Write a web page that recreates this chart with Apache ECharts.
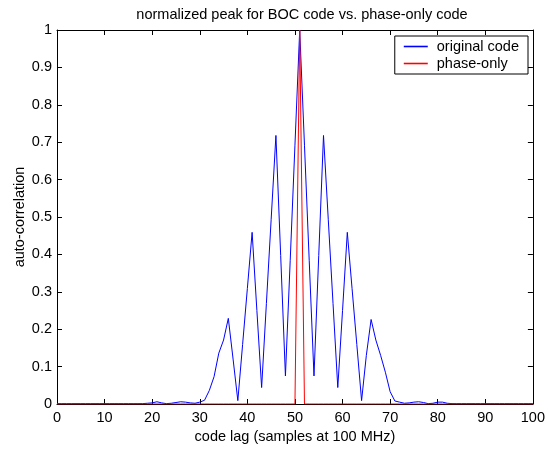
<!DOCTYPE html>
<html>
<head>
<meta charset="utf-8">
<script src="https://cdn.jsdelivr.net/npm/echarts@6/dist/echarts.min.js"></script>
<style>
html,body{margin:0;padding:0;background:#fff;}
#chart{width:548px;height:450px;}
</style>
</head>
<body>
<div id="chart"></div>
<script>
// code lag (samples)
var lags = [0,1,2,3,4,5,6,7,8,9,10,11,12,13,14,15,16,17,18,19,
  20,21,22,23,24,25,26,27,28,29,30,31,32,33,34,35,36,37,38,39,
  40,41,42,43,44,45,46,47,48,49,50,51,52,53,54,55,56,57,58,59,
  60,61,62,63,64,65,66,67,68,69,70,71,72,73,74,75,76,77,78,79,
  80,81,82,83,84,85,86,87,88,89,90,91,92,93,94,95,96,97,98,99,100];
// original code auto-correlation
var originalCode = [0.001,0.001,0.001,0.001,0.001,0.001,0.001,0.001,0.001,0.001,
  0.001,0.001,0.001,0.001,0.001,0.001,0.001,0.001,0.001,0.002,
  0.003,0.006,0.003,0.001,0.002,0.004,0.006,0.005,0.003,0.002,
  0.005,0.01,0.036,0.073,0.136,0.171,0.229,0.12,0.009,0.159,
  0.309,0.459,0.25,0.044,0.269,0.494,0.718,0.397,0.075,0.383,
  0.692,1.0,0.692,0.383,0.075,0.397,0.718,0.494,0.269,0.044,
  0.25,0.459,0.309,0.159,0.009,0.13,0.226,0.171,0.13,0.085,
  0.033,0.008,0.005,0.002,0.003,0.005,0.006,0.004,0.001,0.002,
  0.005,0.005,0.002,0.001,0.001,0.001,0.001,0.001,0.001,0.001,
  0.001,0.001,0.001,0.001,0.001,0.001,0.001,0.001,0.001,0.001,0.001];
// phase-only code auto-correlation
var phaseOnly = [0,0,0,0,0,0,0,0,0,0,0,0,0,0,0,0,0,0,0,0,
  0,0,0,0,0,0,0,0,0,0,0,0,0,0,0,0,0,0,0,0,
  0,0,0,0,0,0,0,0,0,0,0,1,0,0,0,0,0,0,0,0,
  0,0,0,0,0,0,0,0,0,0,0,0,0,0,0,0,0,0,0,0,
  0,0,0,0,0,0,0,0,0,0,0,0,0,0,0,0,0,0,0,0,0];
var seriesNames = ['original code', 'phase-only'];
var xTicks = [0,10,20,30,40,50,60,70,80,90,100];
var yTicks = [0,0.1,0.2,0.3,0.4,0.5,0.6,0.7,0.8,0.9,1];

function pairs(xs, ys){ return xs.map(function(x,i){ return [x, ys[i]]; }); }

var font = 'Liberation Sans, Arial, Helvetica, sans-serif';
var fs = 14.5;
var chart = echarts.init(document.getElementById('chart'), null, {renderer:'canvas'});
var axisCommon = {
  axisLine:{show:true, onZero:false, lineStyle:{color:'#000', width:1}},
  axisTick:{show:true, inside:true, length:5, lineStyle:{color:'#000', width:1}},
  splitLine:{show:false}
};
var seriesColors = ['#0000ff', '#ff0000'];
chart.setOption({
  animation:false,
  backgroundColor:'#fff',
  color:seriesColors,
  title:{
    text:'normalized peak for BOC code vs. phase-only code',
    left:297, top:2, textAlign:'center',
    textStyle:{fontFamily:font, fontSize:fs, fontWeight:'normal', color:'#000'}
  },
  legend:{
    data:seriesNames.map(function(n, i){
      return {name:n, icon:'rect',
        itemStyle:{color:seriesColors[i], borderWidth:0, opacity:1}};
    }),
    orient:'vertical',
    right:20, top:36,
    itemWidth:24, itemHeight:1.6, itemGap:2,
    padding:[3,9,3,9],
    backgroundColor:'#fff',
    borderColor:'#000', borderWidth:1, borderRadius:0,
    textStyle:{fontFamily:font, fontSize:fs, lineHeight:15, color:'#000', padding:[0,0,0,4]}
  },
  grid:{left:57, top:30, width:481, height:374, containLabel:false},
  xAxis:[
    Object.assign({
      type:'value', position:'bottom', min:0, max:100, interval:10,
      name:'code lag (samples at 100 MHz)', nameLocation:'middle', nameGap:25,
      nameMoveOverlap:false,
      nameTextStyle:{fontFamily:font, fontSize:fs, color:'#000'},
      axisLabel:{fontFamily:font, fontSize:fs, color:'#000', margin:6,
        formatter:function(v){ return xTicks.indexOf(v)>=0 ? String(v) : ''; }}
    }, axisCommon),
    Object.assign({
      type:'value', position:'top', min:0, max:100, interval:10,
      axisLabel:{show:false}
    }, axisCommon)
  ],
  yAxis:[
    Object.assign({
      type:'value', position:'left', min:0, max:1, interval:0.1,
      name:'auto-correlation', nameLocation:'middle', nameGap:30,
      nameMoveOverlap:false,
      nameTextStyle:{fontFamily:font, fontSize:fs, color:'#000'},
      axisLabel:{fontFamily:font, fontSize:fs, color:'#000', margin:5,
        formatter:function(v){ var r=Math.round(v*10)/10; return yTicks.indexOf(r)>=0 ? String(r) : ''; }}
    }, axisCommon),
    Object.assign({
      type:'value', position:'right', min:0, max:1, interval:0.1,
      axisLabel:{show:false}
    }, axisCommon)
  ],
  series:[
    {name:seriesNames[0], type:'line', data:pairs(lags, originalCode), color:seriesColors[0],
     showSymbol:false, symbol:'none', lineStyle:{color:seriesColors[0], width:1}, itemStyle:{color:seriesColors[0]}},
    {name:seriesNames[1], type:'line', data:pairs(lags, phaseOnly), color:seriesColors[1],
     showSymbol:false, symbol:'none', lineStyle:{color:seriesColors[1], width:1}, itemStyle:{color:seriesColors[1]}}
  ]
});
</script>
</body>
</html>
